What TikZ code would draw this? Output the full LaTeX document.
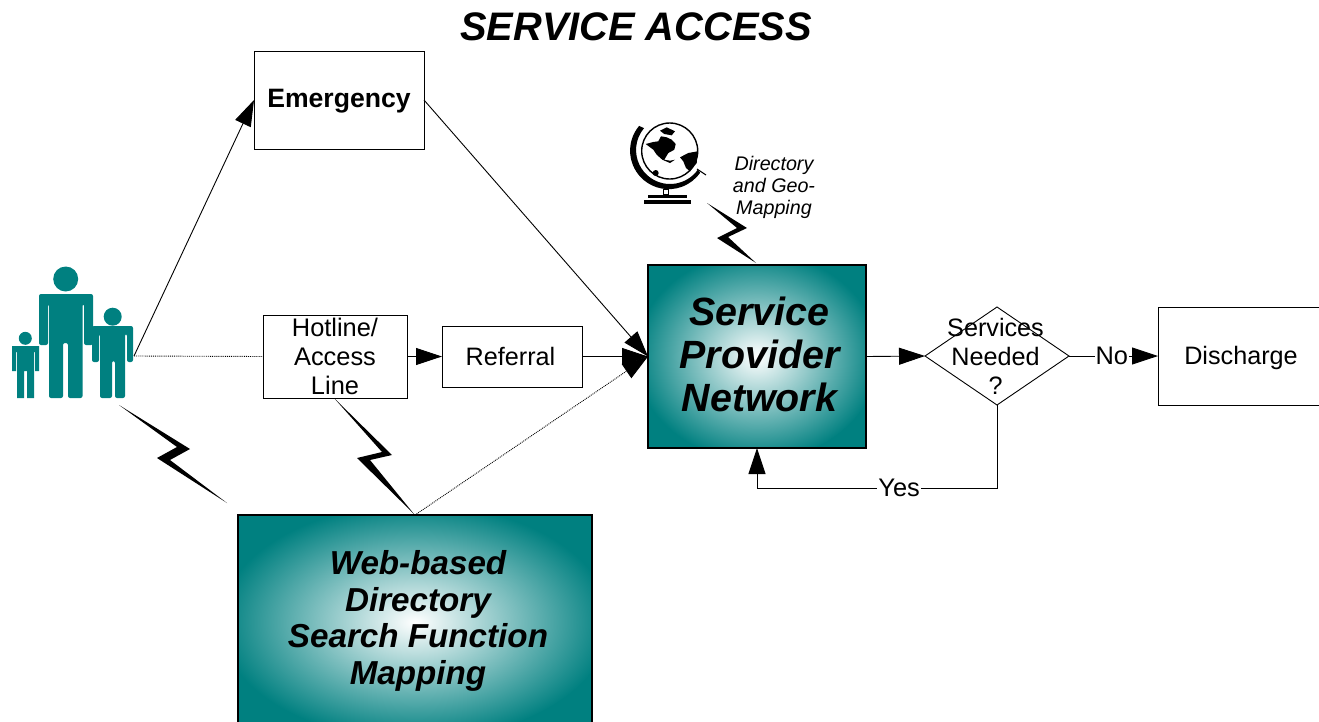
\documentclass[tikz,border=0pt]{standalone}
\usepackage{fontspec}
\setmainfont{Liberation Sans}
\usepackage{tikz}
\usetikzlibrary{positioning, arrows.meta, shapes.geometric}
\definecolor{svcteal}{HTML}{008080}
\pgfdeclareradialshading{glow}{\pgfpointorigin}{color(0bp)=(white); color(25bp)=(svcteal); color(60bp)=(svcteal)}
\tikzset{
    box/.style={draw, line width=0.9pt, rectangle, inner sep=0pt, outer sep=0pt, align=center},
    glowbox/.style={draw, line width=2.4pt, rectangle, fill=svcteal, inner sep=0pt, outer sep=0pt, align=center},
    link/.style={line width=0.9pt, -{Triangle[length=26pt,width=17pt]}},
    dotlink/.style={line width=0.9pt, densely dotted},
    linelabel/.style={fill=white, inner sep=1pt, font=\fontsize{25.4}{29}\selectfont},
    person/.style={fill=svcteal, rounded corners=2pt},
    bolt/.style={fill=black}
}
\begin{document}
\begin{tikzpicture}[x=1pt, y=-1pt]
    \path[clip, use as bounding box] (0,0) rectangle (1319,721);

    % Title
    \node (title) at (636,27) {\fontsize{39.8}{44}\selectfont\bfseries\itshape SERVICE ACCESS};

    % Boxes
    \node[box, minimum width=170pt, minimum height=98pt, font=\fontsize{26.6}{30}\selectfont\bfseries] (emergency) at (339,100) {\raisebox{-1.5pt}[\height][\depth]{Emergency}};
    \node[box, minimum width=144pt, minimum height=83pt, font=\fontsize{25.4}{29}\selectfont] (hotline) at (335,356.5) {Hotline/\hspace{2pt}\\Access\hspace{2pt}\\Line\hspace{2pt}};
    \node[box, minimum width=140pt, minimum height=61pt, font=\fontsize{25.2}{29}\selectfont] (referral) at (512,356.5) {Referral\hspace{3pt}};
    \node[box, minimum width=166pt, minimum height=98pt, font=\fontsize{25.2}{29}\selectfont] (discharge) at (1241,356) {\raisebox{-2pt}[\height][\depth]{Discharge}};
    \node[diamond, draw, line width=0.9pt, inner sep=0pt, outer sep=0pt, minimum width=144pt, minimum height=98pt] (needed) at (997,356) {};
    \node[align=center, font=\fontsize{25.2}{29}\selectfont] (neededtext) at (995.5,356) {Services\\Needed\\?};

    % Shaded boxes
    \node[glowbox, minimum width=218pt, minimum height=183pt,
        path picture={\shade[shading=glow] (path picture bounding box.center) ellipse (122pt and 104pt);}] (provider) at (757,356.5) {};
    \node[align=center, font=\fontsize{39.4}{43}\selectfont\bfseries\itshape] (providertext) at (759.5,354) {Service\\Provider\\Network};
    \node[glowbox, minimum width=354pt, minimum height=214pt,
        path picture={\shade[shading=glow] (path picture bounding box.center) ellipse (195pt and 118pt);}] (web) at (415,622) {};
    \node[align=center, font=\fontsize{33.2}{36.5}\selectfont\bfseries\itshape] (webtext) at (418,621) {Web-based\\Directory\\Search Function\\Mapping};

    % Family
    \coordinate (family) at (134,356);
    \fill[svcteal] (65.7,279) circle (12.5pt);
    \fill[person] (39,294) -- (93,294) -- (93,345) -- (84,345) -- (84,304) -- (82.5,304) -- (82.5,398) -- (68,398) -- (68,343) -- (63,343) -- (63,398) -- (49,398) -- (49,304) -- (48,304) -- (48,345) -- (39,345) -- cycle;
    \fill[svcteal] (112.7,316.7) circle (9pt);
    \fill[person] (92,326) -- (133,326) -- (133,362) -- (127,362) -- (127,334) -- (125,334) -- (125,398) -- (115,398) -- (115,361) -- (112,361) -- (112,398) -- (100,398) -- (100,334) -- (99,334) -- (99,362) -- (92,362) -- cycle;
    \fill[svcteal] (25.3,338.3) circle (6.5pt);
    \fill[svcteal] (12,346) -- (39,346) -- (39,371) -- (35,371) -- (35,352) -- (34,352) -- (34,398) -- (27,398) -- (27,371) -- (24,371) -- (24,398) -- (17,398) -- (17,352) -- (16,352) -- (16,371) -- (12,371) -- cycle;

    % Globe
    \draw[line width=1.4pt] (669.7,151) circle (28pt);
    \fill (639.1,125.9) arc[start angle=140, end angle=325, radius=38.5pt] -- (697.9,169.5) arc[start angle=325, end angle=140, radius=34pt] -- cycle;
    \draw[line width=1pt] (697,169) -- (706,175);
    \fill (645.7,144) -- (653.3,142) -- (658.3,141.3) -- (661,136.3) -- (666.7,137.3) -- (671.7,139.7) -- (675.7,144) -- (674.3,149.7) -- (668.3,153) -- (664.3,159.7) -- (670,160.7) -- (675,159.7) -- (670,163) -- (662.3,159.7) -- (656.7,154.7) -- (653.3,149.7) -- cycle;
    \fill (660,130.7) -- (666.7,127.3) -- (675,131.3) -- (671.7,135.3) -- (664.3,134) -- cycle;
    \fill (680,157.3) -- (688.3,153) -- (697.7,151.3) -- (696.7,163) -- (690,171.3) -- (686,168) -- (683.3,161.3) -- cycle;
    \fill (655.7,173) circle (3pt);
    \draw[line width=1pt] (663.5,189.5) rectangle (668.5,194);
    \fill (648.3,195.3) rectangle (686.7,198);
    \fill (644.3,200.3) rectangle (691,203.7);
    \node[align=center, font=\fontsize{19.7}{22}\selectfont\itshape] (geo) at (774,187) {Directory\\and Geo-\\Mapping};

    % Bolts
    \fill[bolt] (119,405) -- (190,449) -- (170,460) -- (227,503) -- (157,458) -- (177,447) -- cycle;
    \fill[bolt] (334,398) -- (392,455) -- (370,460) -- (414,514) -- (357,458) -- (382,452) -- cycle;
    \fill[bolt] (707,203) -- (747,228) -- (728,237) -- (756,263) -- (717,238) -- (737,228) -- cycle;

    % Connectors
    \draw[link] (family) -- (emergency.west);
    \draw[dotlink] (family) -- (hotline.west);
    \draw[link] (hotline.east) -- (referral.west);
    \draw[link] (referral.east) -- (provider.west);
    \draw[link] (emergency.east) -- (provider.west);
    \draw[dotlink, -{Triangle[length=26pt,width=17pt]}] (web.north) -- (provider.west);
    \draw[link] (provider.east) -- (needed.west);
    \draw[link] (needed.east) -- node[linelabel, pos=0.48] (no) {No} (discharge.west);
    \draw[link] (needed.south) -- ++(0,83) -| node[linelabel, pos=0.204] (yes) {Yes} (provider.south);
\end{tikzpicture}
\end{document}
